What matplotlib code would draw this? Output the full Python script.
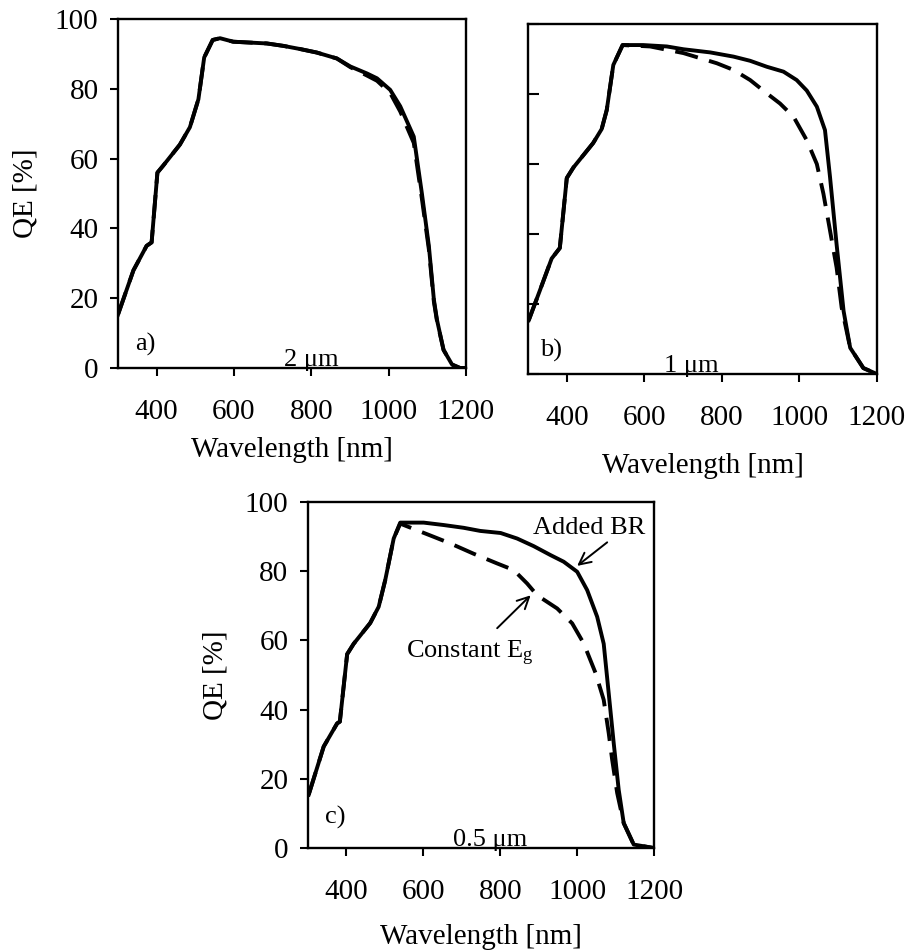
import matplotlib
matplotlib.use("Agg")
import matplotlib.pyplot as plt

plt.rcParams.update({
    "font.family": ["Liberation Serif", "DejaVu Serif"],
    "font.size": 21,
    "mathtext.fontset": "stix",
})

# panel a) 2 um
a_x = [300, 340, 374, 387, 402, 417, 460, 486, 508, 523, 545, 564, 598, 650, 685, 728, 771,
       814, 866, 901, 944, 970, 1004, 1030, 1065, 1086, 1104, 1117, 1125, 1142, 1164, 1185, 1200]
a_solid = [15.3, 28, 35, 36, 56, 58, 64, 69, 77, 89, 94, 94.5, 93.5, 93.2, 93, 92.3, 91.4,
           90.4, 88.7, 86.4, 84.4, 83, 79.7, 75, 66.3, 50, 35, 19.6, 13.8, 5.2, 1, 0, 0]
a_dash = [15.3, 28, 35, 36, 56, 58, 64, 69, 77, 89, 94, 94.5, 93.5, 93.2, 93, 92.3, 91.4,
          90.4, 88.7, 86.2, 83.8, 82.3, 78.8, 73.5, 64.5, 48.5, 34, 19, 13.5, 5.2, 1, 0, 0]

# panel b) 1 um
b_x = [302, 331, 361, 382, 400, 417, 468, 490, 503, 520, 544, 597, 658, 701, 770, 830, 873,
       916, 959, 993, 1019, 1045, 1066, 1079, 1096, 1114, 1131, 1165, 1200]
b_solid = [15.4, 24, 33, 36, 56, 59, 66, 70, 75.4, 88.3, 94, 94, 93.6, 92.8, 91.9, 90.7, 89.5,
           87.8, 86.4, 84, 81, 76.4, 69.7, 56.3, 37, 18, 7.5, 1.7, 0]
b_dash_x = [302, 331, 361, 382, 400, 417, 468, 490, 503, 520, 544, 615, 701, 787, 830, 873,
            916, 950, 985, 1019, 1045, 1062, 1079, 1096, 1109, 1131, 1165, 1200]
b_dash = [15.4, 24, 33, 36, 56, 59, 66, 70, 75.4, 88.3, 94, 93.6, 91.7, 88.8, 86.9, 84,
          80.2, 77.3, 73.5, 66.8, 60, 51.5, 41, 30.4, 19, 7.5, 1.7, 0]

# panel c) 0.5 um
c_x = [302, 341, 376, 383, 402, 419, 462, 484, 501, 523, 540, 601, 653, 705, 748, 801, 844,
       887, 931, 965, 1000, 1026, 1052, 1069, 1082, 1095, 1108, 1121, 1147, 1199]
c_solid = [15.4, 29.3, 36, 36.5, 56, 59, 65, 69.7, 77.4, 89.4, 94, 94, 93.3, 92.5, 91.6, 91,
           89.4, 87.2, 84.6, 82.7, 79.8, 74.5, 66.8, 59, 44.7, 30.3, 16.8, 7.2, 1, 0]
c_dash_x = [302, 341, 376, 383, 402, 419, 462, 484, 501, 523, 540, 627, 670, 731, 792, 835,
            870, 896, 948, 987, 1017, 1048, 1069, 1082, 1091, 1104, 1121, 1147, 1199]
c_dash = [15.4, 29.3, 36, 36.5, 56, 59, 65, 69.7, 77.4, 89.4, 93.7, 89.9, 88, 85, 82.2, 80.3,
          76.4, 73, 69.2, 64.9, 59.1, 50.5, 42.8, 33.2, 25.5, 15.9, 7.2, 1, 0]

fig = plt.figure(figsize=(9.11, 9.51), dpi=100)
axa = fig.add_axes([0.1295, 0.613, 0.382, 0.367])
axb = fig.add_axes([0.5796, 0.6067, 0.383, 0.368])
axc = fig.add_axes([0.338, 0.1083, 0.380, 0.364])


def style(ax, ylabels=True, yin=False, xlabelpad=14):
    ax.set_xlim(300, 1200)
    ax.set_ylim(0, 100)
    ax.set_xticks([400, 600, 800, 1000, 1200])
    ax.set_yticks([0, 20, 40, 60, 80, 100])
    for s in ax.spines.values():
        s.set_linewidth(1.7)
    ax.tick_params(axis="x", direction="out", length=6, width=1.5, pad=16)
    if yin:
        ax.tick_params(axis="y", direction="in", length=8, width=1.5)
    else:
        ax.tick_params(axis="y", direction="out", length=6, width=1.5, pad=8)
    if not ylabels:
        ax.set_yticklabels([])
    else:
        ax.set_ylabel("QE [%]", labelpad=12)
    ax.set_xlabel("Wavelength [nm]", labelpad=xlabelpad)


def draw(ax, x, y, dx, dy):
    ax.plot(dx, dy, color="black", lw=2.8, dashes=(6, 3), solid_capstyle="butt")
    ax.plot(x, y, color="black", lw=2.8, solid_joinstyle="round")


draw(axa, a_x, a_solid, a_x, a_dash)
style(axa, xlabelpad=9)
axa.text(345, 5, "a)", fontsize=19)
axa.text(800, 0.5, "2 μm", fontsize=19, ha="center")

draw(axb, b_x, b_solid, b_dash_x, b_dash)
style(axb, ylabels=False, yin=True, xlabelpad=16)
axb.text(330, 5, "b)", fontsize=19)
axb.text(720, 0.5, "1 μm", fontsize=19, ha="center")

draw(axc, c_x, c_solid, c_dash_x, c_dash)
style(axc, xlabelpad=14)
axc.text(345, 7, "c)", fontsize=19)
axc.text(775, 0.5, "0.5 μm", fontsize=19, ha="center")

arrow = dict(arrowstyle="->", color="black", lw=1.4, shrinkA=0, shrinkB=0)
axc.text(1032, 92.3, "Added BR", fontsize=19, ha="center", va="center")
axc.annotate("", xy=(1000, 81.5), xytext=(1078, 88.3), arrowprops=arrow)
axc.text(722, 56.3, "Constant E$_\\mathregular{g}$", fontsize=19, ha="center", va="center")
axc.annotate("", xy=(879, 73), xytext=(792, 63.5), arrowprops=arrow)

fig.savefig("out.png", dpi=100)
